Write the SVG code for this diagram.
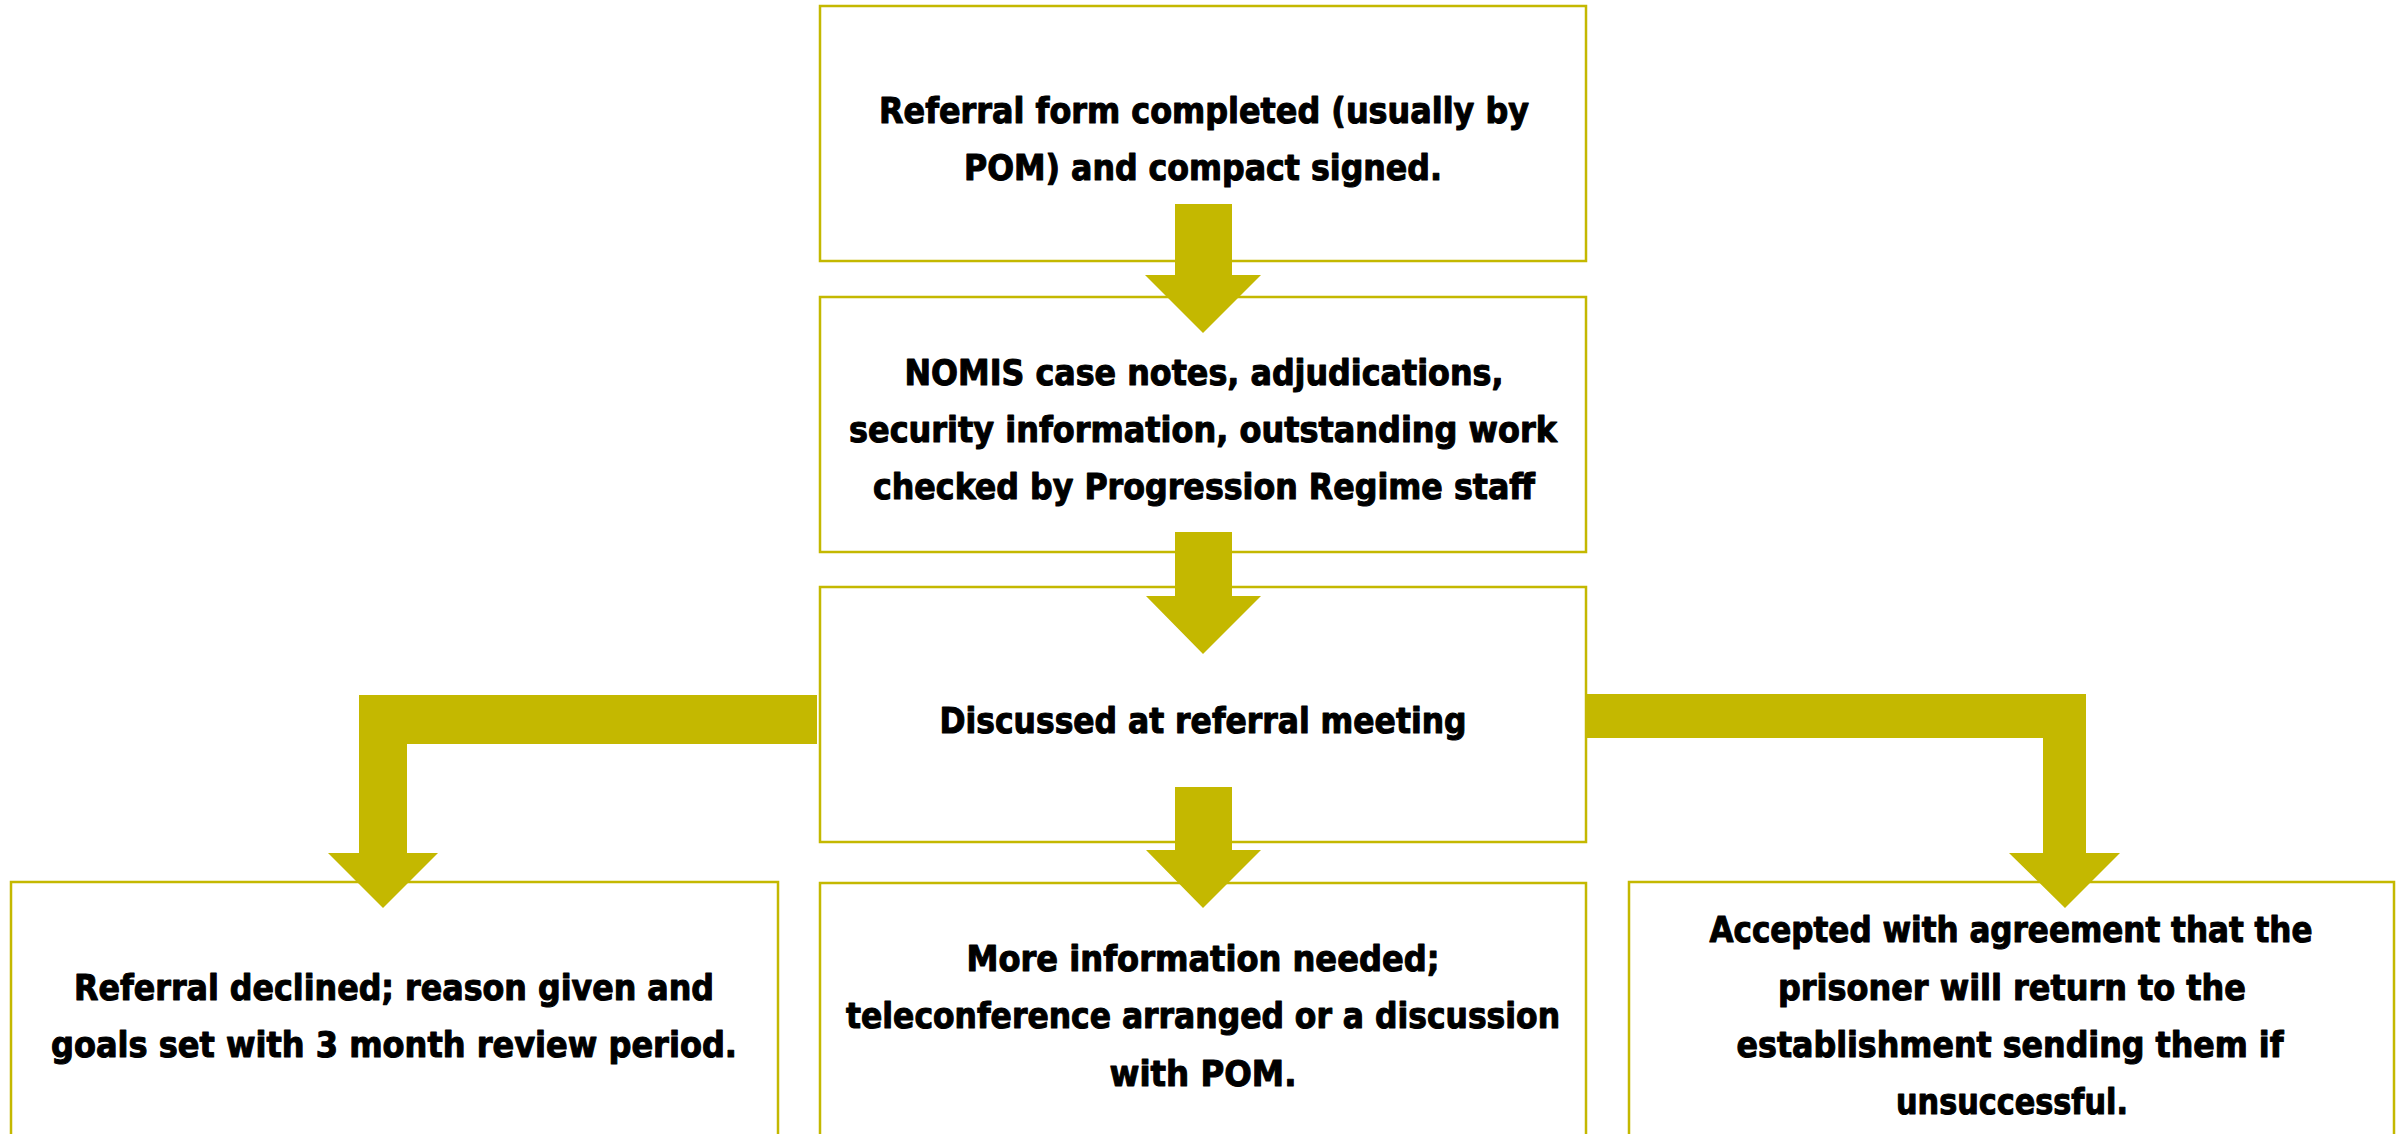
<svg xmlns="http://www.w3.org/2000/svg" width="2402" height="1134" viewBox="0 0 2402 1134">
  <style>
    .box { fill: #ffffff; stroke: #C4B800; stroke-width: 2.5; }
    .arrow { fill: #C4B800; stroke: none; }
    .lbl { font-family: "DejaVu Sans Condensed", "Liberation Sans Narrow", "Liberation Sans", sans-serif; font-stretch: condensed; font-weight: bold; font-size: 36px; fill: #000000; stroke: #000000; stroke-width: 1; stroke-linejoin: round; text-anchor: middle; }
  </style>
  <rect width="2402" height="1134" fill="#ffffff"/>

  <!-- process steps -->
  <g id="node-referral-form">
    <rect class="box" x="820" y="6" width="766" height="255"/>
    <text class="lbl" x="1204" y="123" textLength="650" lengthAdjust="spacingAndGlyphs">Referral form completed (usually by</text>
    <text class="lbl" x="1203" y="180" textLength="478" lengthAdjust="spacingAndGlyphs">POM) and compact signed.</text>
  </g>

  <g id="node-nomis-checks">
    <rect class="box" x="820" y="297" width="766" height="255"/>
    <text class="lbl" x="1204" y="385" textLength="599" lengthAdjust="spacingAndGlyphs">NOMIS case notes, adjudications,</text>
    <text class="lbl" x="1203" y="442" textLength="708" lengthAdjust="spacingAndGlyphs">security information, outstanding work</text>
    <text class="lbl" x="1204" y="499" textLength="662" lengthAdjust="spacingAndGlyphs">checked by Progression Regime staff</text>
  </g>

  <g id="node-referral-meeting">
    <rect class="box" x="820" y="587" width="766" height="255"/>
    <text class="lbl" x="1203" y="733" textLength="527" lengthAdjust="spacingAndGlyphs">Discussed at referral meeting</text>
  </g>

  <!-- outcomes -->
  <g id="node-declined">
    <rect class="box" x="11" y="882" width="767" height="270"/>
    <text class="lbl" x="394" y="1000" textLength="640" lengthAdjust="spacingAndGlyphs">Referral declined; reason given and</text>
    <text class="lbl" x="394" y="1057" textLength="686" lengthAdjust="spacingAndGlyphs">goals set with 3 month review period.</text>
  </g>

  <g id="node-more-info">
    <rect class="box" x="820" y="883" width="766" height="270"/>
    <text class="lbl" x="1203" y="971" textLength="473" lengthAdjust="spacingAndGlyphs">More information needed;</text>
    <text class="lbl" x="1203" y="1028" textLength="714" lengthAdjust="spacingAndGlyphs">teleconference arranged or a discussion</text>
    <text class="lbl" x="1203" y="1086" textLength="187" lengthAdjust="spacingAndGlyphs">with POM.</text>
  </g>

  <g id="node-accepted">
    <rect class="box" x="1629" y="882" width="765" height="270"/>
    <text class="lbl" x="2011" y="942" textLength="603" lengthAdjust="spacingAndGlyphs">Accepted with agreement that the</text>
    <text class="lbl" x="2012" y="1000" textLength="468" lengthAdjust="spacingAndGlyphs">prisoner will return to the</text>
    <text class="lbl" x="2010" y="1057" textLength="547" lengthAdjust="spacingAndGlyphs">establishment sending them if</text>
    <text class="lbl" x="2012" y="1114" textLength="232" lengthAdjust="spacingAndGlyphs">unsuccessful.</text>
  </g>

  <!-- block arrows -->
  <g id="connectors">
    <polygon class="arrow" points="1175,204 1232,204 1232,275 1261,275 1203,333 1145,275 1175,275"/>
    <polygon class="arrow" points="1175,532 1232,532 1232,596 1261,596 1203,654 1146,596 1175,596"/>
    <polygon class="arrow" points="1175,787 1232,787 1232,850 1261,850 1203,908 1146,850 1175,850"/>
    <polygon class="arrow" points="817,695 817,744 407,744 407,853 438,853 383,908 328,853 359,853 359,695"/>
    <polygon class="arrow" points="1586,694 2086,694 2086,853 2120,853 2065,908 2009,853 2043,853 2043,738 1586,738"/>
  </g>
</svg>
